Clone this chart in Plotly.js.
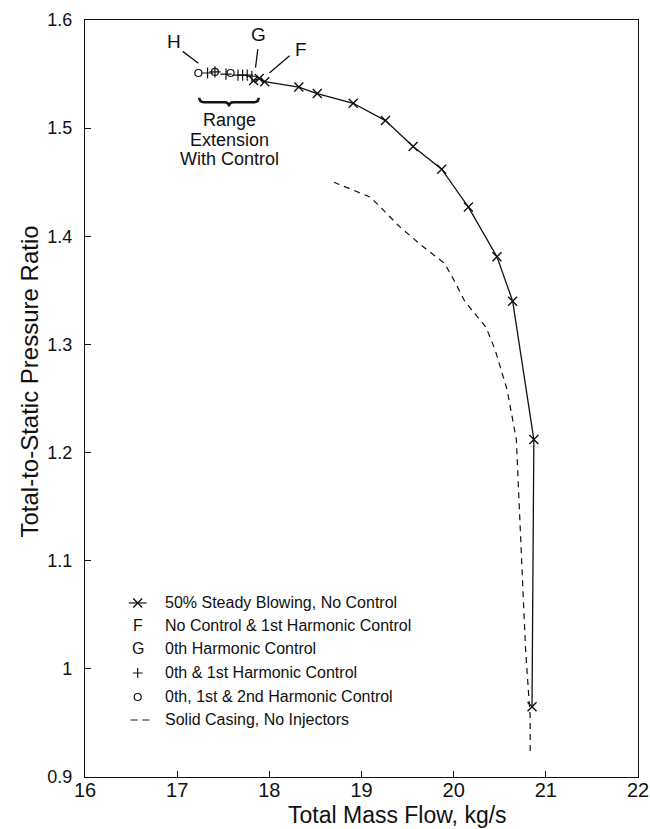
<!DOCTYPE html>
<html>
<head>
<meta charset="utf-8">
<script src="https://cdn.plot.ly/plotly-3.0.1.min.js"></script>
<style>
  html, body { margin: 0; padding: 0; background: #fff; }
  #chart { width: 650px; height: 829px; }
</style>
</head>
<body>
<div id="chart"></div>
<script>
// 50% steady blowing, no control (solid line with x markers)
const blowingFlow  = [17.83, 17.89, 17.95, 18.32, 18.52, 18.91, 19.26, 19.56, 19.87, 20.16, 20.47, 20.64, 20.87, 20.85];
const blowingRatio = [1.544, 1.546, 1.543, 1.538, 1.532, 1.523, 1.507, 1.483, 1.462, 1.427, 1.381, 1.340, 1.212, 0.965];

// 0th & 1st harmonic control (+)
const plusFlow  = [17.33, 17.41, 17.53, 17.66, 17.71, 17.76, 17.81];
const plusRatio = [1.551, 1.552, 1.550, 1.549, 1.549, 1.549, 1.548];

// 0th, 1st & 2nd harmonic control (o)
const circleFlow  = [17.23, 17.41, 17.58];
const circleRatio = [1.551, 1.552, 1.551];

// Solid casing, no injectors (dashed)
const solidFlow  = [18.70, 19.10, 19.40, 19.63, 19.90, 20.00, 20.12, 20.35, 20.45, 20.58, 20.68, 20.73, 20.78, 20.83, 20.83];
const solidRatio = [1.450, 1.436, 1.410, 1.393, 1.375, 1.360, 1.340, 1.316, 1.295, 1.258, 1.212, 1.110, 1.018, 0.956, 0.923];

// Axis ticks
const xTicks = [16, 17, 18, 19, 20, 21, 22];
const yTicks = [0.9, 1.0, 1.1, 1.2, 1.3, 1.4, 1.5, 1.6];
const yTickText = ['0.9', '1', '1.1', '1.2', '1.3', '1.4', '1.5', '1.6'];

// Legend entries
const legendLabels = [
  '50% Steady Blowing, No Control',
  'No Control & 1st Harmonic Control',
  '0th Harmonic Control',
  '0th & 1st Harmonic Control',
  '0th, 1st & 2nd Harmonic Control',
  'Solid Casing, No Injectors'
];
const legendKeys = ['', 'F', 'G', '', '', ''];

// Point labels
const pointLabels = ['H', 'G', 'F'];
const pointLabelPos = [[16.97, 1.580], [17.885, 1.587], [18.34, 1.573]];
const leaderLines = [[17.06, 1.571, 17.23, 1.560], [17.875, 1.573, 17.85, 1.556], [18.22, 1.567, 18.00, 1.551]];

// Range extension brace
const braceSpan = [17.24, 17.885];
const braceLevel = [1.528, 1.524, 1.520];
const rangeText = ['Range', 'Extension', 'With Control'];
const rangeTextRatio = [1.5075, 1.489, 1.4715];

const FONT = '"Liberation Sans", Arial, Helvetica, sans-serif';
const INK = '#111';

// Legend glyph placement in plot-fraction units
const legendRows = [0.2299, 0.1995, 0.1691, 0.1374, 0.1057, 0.0753];
const glyphX = 0.0953;
const textX = 0.1403;

const traces = [
  {
    x: solidFlow, y: solidRatio, mode: 'lines', type: 'scatter',
    line: {color: INK, width: 1.2, dash: '6px,5px'}, hoverinfo: 'skip'
  },
  {
    x: blowingFlow, y: blowingRatio, mode: 'lines+markers', type: 'scatter',
    line: {color: INK, width: 1.3},
    marker: {symbol: 'x-thin-open', size: 9, color: INK, line: {color: INK, width: 1.4}}
  },
  {
    x: plusFlow, y: plusRatio, mode: 'markers', type: 'scatter',
    marker: {symbol: 'cross-thin-open', size: 8, color: INK, line: {color: INK, width: 1.2}}
  },
  {
    x: circleFlow, y: circleRatio, mode: 'markers', type: 'scatter',
    marker: {symbol: 'circle-open', size: 7, color: INK, line: {color: INK, width: 1.2}}
  },
  // legend glyphs on an overlay axis pair spanning the plot area
  {
    x: [glyphX - 0.016, glyphX, glyphX + 0.016], y: [legendRows[0], legendRows[0], legendRows[0]],
    xaxis: 'x2', yaxis: 'y2', mode: 'lines', type: 'scatter',
    line: {color: INK, width: 1.2}
  },
  {
    x: [glyphX], y: [legendRows[0]], xaxis: 'x2', yaxis: 'y2', mode: 'markers', type: 'scatter',
    marker: {symbol: 'x-thin-open', size: 9, color: INK, line: {color: INK, width: 1.4}}
  },
  {
    x: [glyphX], y: [legendRows[3]], xaxis: 'x2', yaxis: 'y2', mode: 'markers', type: 'scatter',
    marker: {symbol: 'cross-thin-open', size: 7, color: INK, line: {color: INK, width: 1.2}}
  },
  {
    x: [glyphX], y: [legendRows[4]], xaxis: 'x2', yaxis: 'y2', mode: 'markers', type: 'scatter',
    marker: {symbol: 'circle-open', size: 7, color: INK, line: {color: INK, width: 1.2}}
  },
  {
    x: [glyphX - 0.013, glyphX + 0.025], y: [legendRows[5], legendRows[5]],
    xaxis: 'x2', yaxis: 'y2', mode: 'lines', type: 'scatter',
    line: {color: INK, width: 1.2, dash: '7px,5px'}
  }
];

const annotations = [];
legendLabels.forEach((t, i) => {
  annotations.push({
    xref: 'paper', yref: 'paper', x: textX, y: legendRows[i], xanchor: 'left', yanchor: 'middle',
    text: t, showarrow: false, font: {family: FONT, size: 16, color: INK}
  });
  if (legendKeys[i]) {
    annotations.push({
      xref: 'paper', yref: 'paper', x: glyphX, y: legendRows[i], xanchor: 'center', yanchor: 'middle',
      text: legendKeys[i], showarrow: false, font: {family: FONT, size: 16, color: INK}
    });
  }
});
pointLabels.forEach((t, i) => {
  annotations.push({
    x: pointLabelPos[i][0], y: pointLabelPos[i][1], text: t, showarrow: false,
    xanchor: 'center', yanchor: 'middle', font: {family: FONT, size: 19, color: INK}
  });
});
rangeText.forEach((t, i) => {
  annotations.push({
    x: (braceSpan[0] + braceSpan[1]) / 2, y: rangeTextRatio[i], text: t, showarrow: false,
    xanchor: 'center', yanchor: 'middle', font: {family: FONT, size: 18, color: INK}
  });
});
// axis titles
annotations.push({
  xref: 'paper', yref: 'paper', x: 0.565, y: -0.0505, xanchor: 'center', yanchor: 'middle',
  text: 'Total Mass Flow, kg/s', showarrow: false, font: {family: FONT, size: 23, color: INK}
});
annotations.push({
  xref: 'paper', yref: 'paper', x: -0.1, y: 0.522, xanchor: 'center', yanchor: 'middle',
  text: 'Total-to-Static Pressure Ratio', textangle: -90, showarrow: false,
  font: {family: FONT, size: 24, color: INK}
});

const shapes = leaderLines.map(l => ({
  type: 'line', xref: 'x', yref: 'y', x0: l[0], y0: l[1], x1: l[2], y1: l[3],
  line: {color: INK, width: 1.3}
}));

// curly brace under the extended range
(function () {
  const x0 = braceSpan[0], x1 = braceSpan[1], xm = (x0 + x1) / 2;
  const [yTop, yMid, yTip] = braceLevel;
  const w = 0.05;
  const path = `M ${x0},${yTop} Q ${x0},${yMid} ${x0 + w},${yMid} L ${xm - w},${yMid} ` +
               `Q ${xm},${yMid} ${xm},${yTip} Q ${xm},${yMid} ${xm + w},${yMid} ` +
               `L ${x1 - w},${yMid} Q ${x1},${yMid} ${x1},${yTop}`;
  shapes.push({type: 'path', xref: 'x', yref: 'y', path: path, line: {color: INK, width: 2.4}});
})();

const layout = {
  width: 650, height: 829,
  margin: {l: 85, r: 12, t: 20, b: 52},
  paper_bgcolor: '#fff', plot_bgcolor: '#fff',
  showlegend: false,
  font: {family: FONT, color: INK},
  xaxis: {
    range: [16, 22], tickvals: xTicks, ticks: 'inside', ticklen: 6, tickcolor: INK,
    showline: true, linecolor: INK, linewidth: 1.2, mirror: true, showgrid: false, zeroline: false,
    tickfont: {family: FONT, size: 20, color: INK}, ticklabelstandoff: -5,
    ticklabeloverflow: 'allow'
  },
  yaxis: {
    range: [0.9, 1.6], tickvals: yTicks, ticktext: yTickText, ticks: 'inside', ticklen: 6, tickcolor: INK,
    showline: true, linecolor: INK, linewidth: 1.2, mirror: true, showgrid: false, zeroline: false,
    tickfont: {family: FONT, size: 18, color: INK}, ticklabelstandoff: 8,
    ticklabeloverflow: 'allow'
  },
  xaxis2: {overlaying: 'x', range: [0, 1], visible: false, fixedrange: true},
  yaxis2: {overlaying: 'y', range: [0, 1], visible: false, fixedrange: true},
  annotations: annotations,
  shapes: shapes
};

Plotly.newPlot('chart', traces, layout, {displayModeBar: false, staticPlot: true});
</script>
</body>
</html>
